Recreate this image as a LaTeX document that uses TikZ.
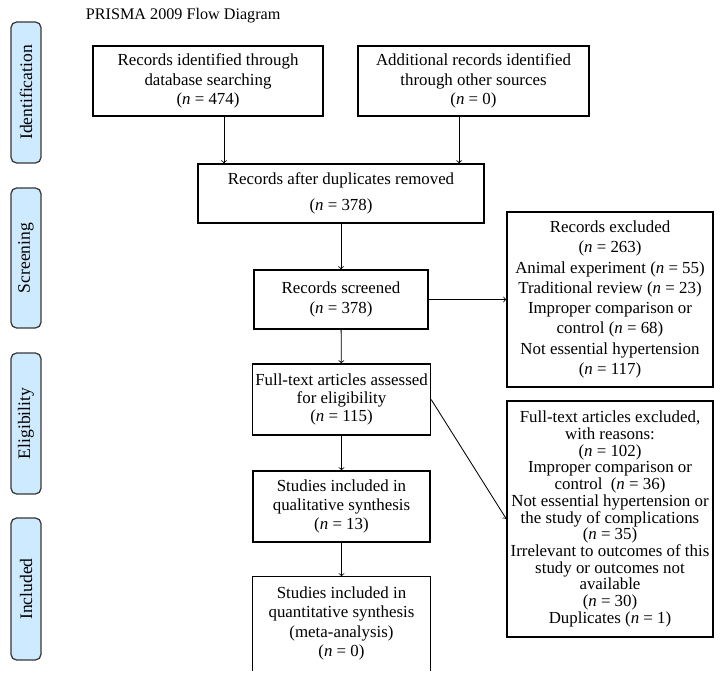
\documentclass[tikz,border=0pt]{standalone}
\usepackage{fontspec}
\setmainfont{Liberation Serif}

\definecolor{stagefill}{RGB}{206,234,255}
\definecolor{stageline}{RGB}{55,55,55}
\newcommand{\ncount}[1]{(\textit{n} = #1)}

\tikzset{
	flowbox/.style={draw, line width=0.9pt, align=center, inner sep=2pt, font=\fontsize{12}{13.8}\selectfont},
	stage/.style={draw=stageline, fill=stagefill, rounded corners=4pt, line width=0.9pt, rotate=90, minimum height=0.75cm, inner sep=0pt, font=\fontsize{12.5}{13.8}\selectfont},
	flow/.style={->, line width=0.6pt}
}

\begin{document}
\begin{tikzpicture}[x=0.025cm,y=-0.025cm]
	\useasboundingbox (0,0) rectangle (724,682);
	
	\node[anchor=west, font=\fontsize{11.5}{13.8}\selectfont] (title) at (81,16) {PRISMA 2009 Flow Diagram};
	
	\node[stage, minimum width=3.525cm] (ident) at (26,92.5) {Identification};
	\node[stage, minimum width=3.5cm] (screen) at (26,258) {Screening};
	\node[stage, minimum width=3.525cm] (elig) at (26,423.5) {Eligibility};
	\node[stage, minimum width=3.55cm] (incl) at (26,589) {Included};
	
	\node[flowbox, minimum width=5.75cm, minimum height=1.75cm] (dbrec) at (208,81) {Records identified through\\database searching\\\ncount{474}};
	\node[flowbox, minimum width=5.775cm, minimum height=1.75cm] (otherrec) at (473.5,81) {Additional records identified\\through other sources\\\ncount{0}};
	\node[flowbox, minimum width=7.15cm, minimum height=1.475cm] (dedup) at (341,193.5) {Records after duplicates removed\\[5pt]\ncount{378}};
	\node[flowbox, minimum width=4.35cm, minimum height=1.475cm] (screened) at (341,299.5) {Records screened\\\ncount{378}};
	\node[flowbox, minimum width=5.15cm, minimum height=4.375cm, font=\fontsize{12}{14.4}\selectfont] (excl) at (610,299.5) {Records excluded\\\ncount{263}\\Animal experiment \ncount{55}\\Traditional review \ncount{23}\\Improper comparison or\\control \ncount{68}\\Not essential hypertension\\\ncount{117}};
	\node[flowbox, minimum width=4.425cm, minimum height=1.775cm, font=\fontsize{12}{12.8}\selectfont] (fulltext) at (341.5,399.5) {Full-text articles assessed\\for eligibility\\\ncount{115}};
	\node[flowbox, minimum width=5.15cm, minimum height=5.9cm, font=\fontsize{12}{11.9}\selectfont] (ftexcl) at (610,519) {Full-text articles excluded,\\with reasons:\\\ncount{102}\\Improper comparison or\\control~ \ncount{36}\\Not essential hypertension or\\the study of complications\\\ncount{35}\\Irrelevant to outcomes of this\\study or outcomes not\\available\\\ncount{30}\\Duplicates \ncount{1}};
	\node[flowbox, minimum width=4.425cm, minimum height=1.775cm] (quali) at (341.5,506.5) {Studies included in\\qualitative synthesis\\\ncount{13}};
	\node[flowbox, draw=none, minimum width=4.425cm, minimum height=2.325cm] (quanti) at (341.5,623.5) {Studies included in\\quantitative synthesis\\(meta-analysis)\\\ncount{0}};
	\draw[line width=0.9pt] (quanti.south west) |- (quanti.north) -| (quanti.south east);
	
	\draw[flow] ([xshift=0.4cm]dbrec.south) -- ([xshift=0.4cm]dbrec.south |- dedup.north);
	\draw[flow] ([xshift=-0.36cm]otherrec.south) -- ([xshift=-0.36cm]otherrec.south |- dedup.north);
	\draw[flow] (dedup) -- (screened);
	\draw[flow] (screened) -- (excl);
	\draw[flow] (screened) -- (fulltext);
	\draw[flow] (fulltext.east) -- (ftexcl.west);
	\draw[flow] (fulltext) -- (quali);
	\draw[flow] (quali) -- (quanti.north);
\end{tikzpicture}
\end{document}
